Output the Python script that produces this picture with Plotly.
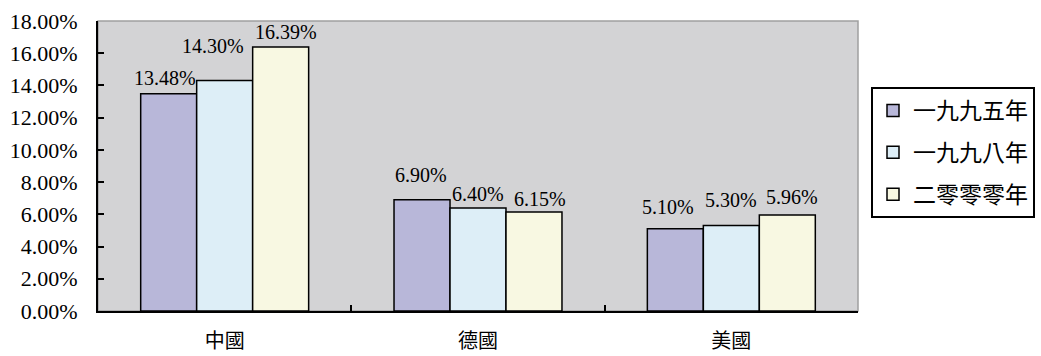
import plotly.graph_objects as go

# Countries on the category axis
countries = ["中國", "德國", "美國"]

# Series: one per year
years = ["一九九五年", "一九九八年", "二零零零年"]
values_1995 = [0.1348, 0.0690, 0.0510]
values_1998 = [0.1430, 0.0640, 0.0530]
values_2000 = [0.1639, 0.0615, 0.0596]
series_values = [values_1995, values_1998, values_2000]

# Y-axis ticks
y_ticks = [0.00, 0.02, 0.04, 0.06, 0.08, 0.10, 0.12, 0.14, 0.16, 0.18]

bar_colors = ["#b8b7d9", "#ddeef7", "#f8f8e2"]

# Page / plot geometry
W, H = 1041, 356
M_L, M_R, M_T, M_B = 98, 183, 21, 45
BARGAP = 0.337

# Per-label nudges (px) so value labels sit clear of neighbours
label_dx = [[-4, -1, -7], [-12, 0, 0], [5, 6, 5]]
label_dy = [[16, 25, 22], [35, 14, 26], [15, 13, 18]]

serif = "Liberation Serif, Times New Roman, Times, serif"
cjk = "Noto Sans CJK TC"

fig = go.Figure()
for i, (name, vals, col) in enumerate(zip(years, series_values, bar_colors)):
    fig.add_trace(go.Bar(
        x=countries, y=vals, name=name, legendgroup=name,
        marker=dict(color=col, line=dict(color="black", width=1.5)),
        hoverinfo="x+y+name",
    ))

# Value labels placed over each bar
plot_w = W - M_L - M_R
plot_h = H - M_T - M_B
cat_px = plot_w / len(countries)
bar_px = cat_px * (1 - BARGAP) / len(years)
annotations = []
for i, vals in enumerate(series_values):
    for j, v in enumerate(vals):
        annotations.append(dict(
            x=countries[j], y=v, xref="x", yref="y",
            text=f"{v * 100:.2f}%", showarrow=False,
            xanchor="center", yanchor="middle",
            xshift=(i - 1) * bar_px + label_dx[i][j],
            yshift=label_dy[i][j],
            font=dict(family=serif, size=20, color="black"),
        ))

fig.update_layout(
    width=W, height=H,
    margin=dict(l=M_L, r=M_R, t=M_T, b=M_B, pad=0, autoexpand=False),
    paper_bgcolor="white",
    plot_bgcolor="#d3d3d5",
    barmode="group", bargap=BARGAP, bargroupgap=0,
    font=dict(family=serif, color="black"),
    annotations=annotations,
    shapes=[dict(
        type="rect", xref="paper", yref="paper", x0=0, y0=0, x1=1, y1=1,
        line=dict(color="#a0a0a0", width=1.5), layer="below",
    )],
    legend=dict(
        x=(871 - M_L) / plot_w, y=1 - (87 - M_T) / plot_h,
        xanchor="left", yanchor="top",
        bordercolor="black", borderwidth=2, bgcolor="white",
        font=dict(family=cjk, size=23, color="black"),
        tracegroupgap=9, entrywidth=175, itemclick=False,
    ),
    xaxis=dict(
        type="category", showline=True, linecolor="black", linewidth=2,
        ticks="inside", tickson="boundaries", ticklen=6, tickwidth=1.5, tickcolor="black",
        tickfont=dict(family=cjk, size=20, color="black"),
        ticklabelstandoff=11, showgrid=False, zeroline=False, automargin=False,
    ),
    yaxis=dict(
        range=[0, 0.18], tickvals=y_ticks, tickformat=".2%",
        showline=True, linecolor="black", linewidth=2,
        ticks="inside", ticklen=6, tickwidth=1.5, tickcolor="black",
        tickfont=dict(family=serif, size=22, color="black"),
        ticklabelstandoff=14, showgrid=False, zeroline=False, automargin=False,
    ),
)

fig.write_html("out.html")
